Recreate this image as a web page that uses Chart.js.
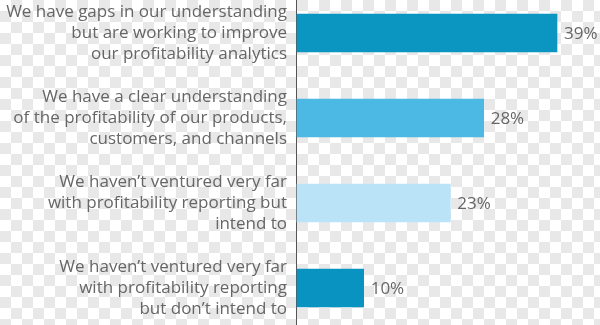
<!DOCTYPE html>
<html>
<head>
<meta charset="utf-8">
<script src="https://cdn.jsdelivr.net/npm/chart.js@4"></script>
<style>
  html, body { margin: 0; padding: 0; }
  body {
    width: 600px; height: 325px;
    background-color: #fff;
    background-image:
      linear-gradient(45deg, #e8e8e8 25%, transparent 25%, transparent 75%, #e8e8e8 75%),
      linear-gradient(45deg, #e8e8e8 25%, transparent 25%, transparent 75%, #e8e8e8 75%);
    background-size: 22px 22px;
    background-position: 0 0, 11px 11px;
  }
  #wrap { position: relative; width: 600px; height: 325px; }
</style>
</head>
<body>
<div id="wrap"><canvas id="chart"></canvas></div>
<script>
// answers, top to bottom
const categories = [
  ['We have gaps in our understanding', 'but are working to improve', 'our profitability analytics'],
  ['We have a clear understanding', 'of the profitability of our products,', 'customers, and channels'],
  ['We haven\u2019t ventured very far', 'with profitability reporting but', 'intend to'],
  ['We haven\u2019t ventured very far', 'with profitability reporting', 'but don\u2019t intend to']
];
const shares = [39, 28, 23, 10];
const barColors = ['#0b95c1', '#4cb9e4', '#bbe3f7', '#0993c0'];

const textGrey = '#666666';
const fontFamily = '"Open Sans", sans-serif';

// percent labels at the end of each bar
const valueLabels = {
  id: 'valueLabels',
  afterDatasetsDraw(chart) {
    const ctx = chart.ctx;
    const meta = chart.getDatasetMeta(0);
    ctx.save();
    ctx.font = '17px ' + fontFamily;
    ctx.fillStyle = textGrey;
    ctx.textAlign = 'left';
    ctx.textBaseline = 'middle';
    meta.data.forEach((bar, i) => {
      ctx.fillText(shares[i] + '%', bar.x + 7, bar.y + 1);
    });
    ctx.restore();
  }
};

// vertical axis line running the full height
const axisLine = {
  id: 'axisLine',
  beforeDatasetsDraw(chart) {
    const ctx = chart.ctx;
    const x = chart.scales.x.getPixelForValue(0);
    ctx.save();
    ctx.strokeStyle = '#555';
    ctx.lineWidth = 1;
    ctx.beginPath();
    ctx.moveTo(x - 0.5, 0);
    ctx.lineTo(x - 0.5, chart.height);
    ctx.stroke();
    ctx.restore();
  }
};

new Chart(document.getElementById('chart'), {
  type: 'bar',
  data: {
    labels: categories,
    datasets: [{
      data: shares,
      backgroundColor: barColors,
      barThickness: 38,
      clip: false
    }]
  },
  options: {
    indexAxis: 'y',
    responsive: true,
    maintainAspectRatio: false,
    animation: false,
    layout: { padding: { top: 33, bottom: 37, left: 0, right: 3 } },
    plugins: { legend: { display: false }, tooltip: { enabled: false } },
    scales: {
      x: { display: false, min: 0, max: 45 },
      y: {
        offset: false,
        grid: { display: false, drawTicks: false },
        border: { display: false },
        afterFit: s => { s.width = 297; s.paddingTop = 0; s.paddingBottom = 0; },
        ticks: {
          padding: 10,
          color: textGrey,
          font: { family: fontFamily, size: 17, lineHeight: 1.24 }
        }
      }
    }
  },
  plugins: [axisLine, valueLabels]
});
</script>
</body>
</html>
